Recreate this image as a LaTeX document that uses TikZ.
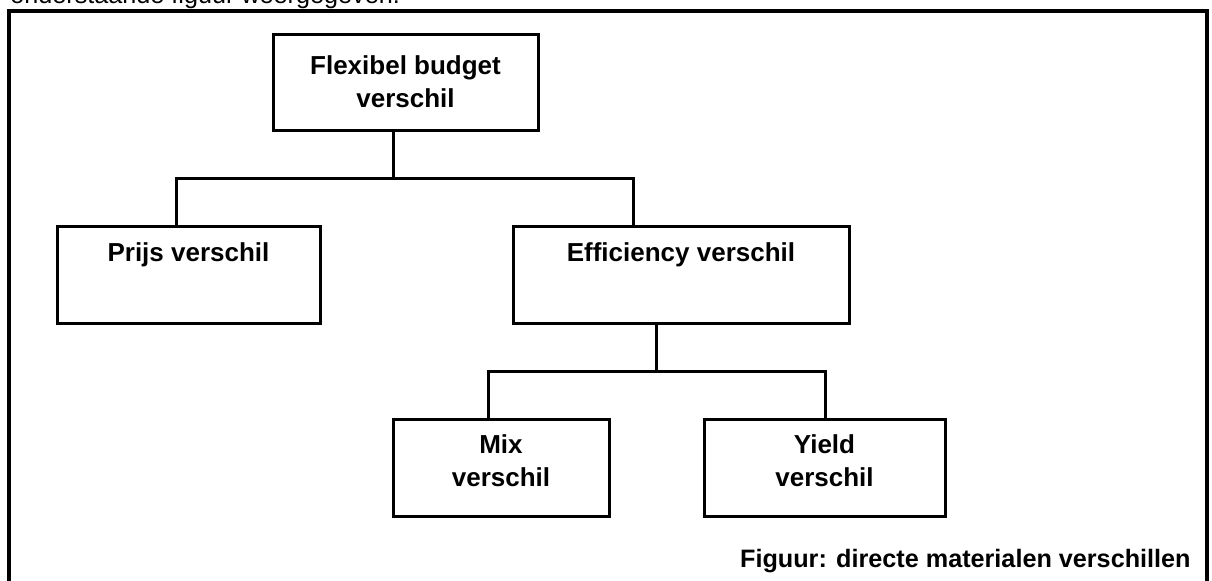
\documentclass[tikz,border=0pt]{standalone}
\usepackage{fontspec}
\setmainfont{Liberation Sans}
\usetikzlibrary{calc}
\tikzset{box/.style={draw,line width=1.5pt,align=center,inner sep=0pt,
  font=\bfseries\fontsize{13}{16.5}\selectfont,minimum height=48.5pt},
 headbox/.style={box,text depth=22.5pt},
 link/.style={line width=1.5pt},
 frame/.style={line width=1.6pt}}

\begin{document}
\begin{tikzpicture}[x=0.5pt,y=-0.5pt]
\useasboundingbox (0,0) rectangle (1212,580);
\clip (0,0) rectangle (1212,580);
\node[anchor=base west,inner sep=0pt,font=\fontsize{12.6}{14}\selectfont] (intro) at (10,3) {onderstaande figuur weergegeven.};
\draw[frame] (9,600) -- (9,11) -- (1207,11) -- (1207,600);
% boxes
\node[box,minimum width=132.5pt,minimum height=48pt] (flex) at (405.5,82) {Flexibel budget\\verschil};
\node[headbox,minimum width=131.5pt] (prijs) at (188.5,274.5) {Prijs verschil};
\node[headbox,minimum width=168pt] (eff) at (681,274.5) {Efficiency verschil};
\node[box,text depth=6.5pt,minimum width=108pt] (mix) at (501,467.5) {Mix\\verschil};
\node[box,text depth=6.5pt,minimum width=120.5pt] (yield) at (824.5,467.5) {Yield\\verschil};
% connectors
\coordinate (j1) at (393,178);
\coordinate (j1l) at (176,178);
\coordinate (j1r) at (633,178);
\draw[link] (flex.south -| j1) -- (j1);
\draw[link] (prijs.north -| j1l) |- (j1r) -- (eff.north -| j1r);
\coordinate (j2) at (656,371);
\coordinate (j2l) at (488,371);
\coordinate (j2r) at (825,371);
\draw[link] (eff.south -| j2) -- (j2);
\draw[link] (mix.north -| j2l) |- (j2r) -- (yield.north -| j2r);
\node[anchor=base east,inner sep=0pt,font=\bfseries\fontsize{12.6}{14}\selectfont] (caption) at (1191,567) {Figuur: directe materialen verschillen};
\end{tikzpicture}
\end{document}
